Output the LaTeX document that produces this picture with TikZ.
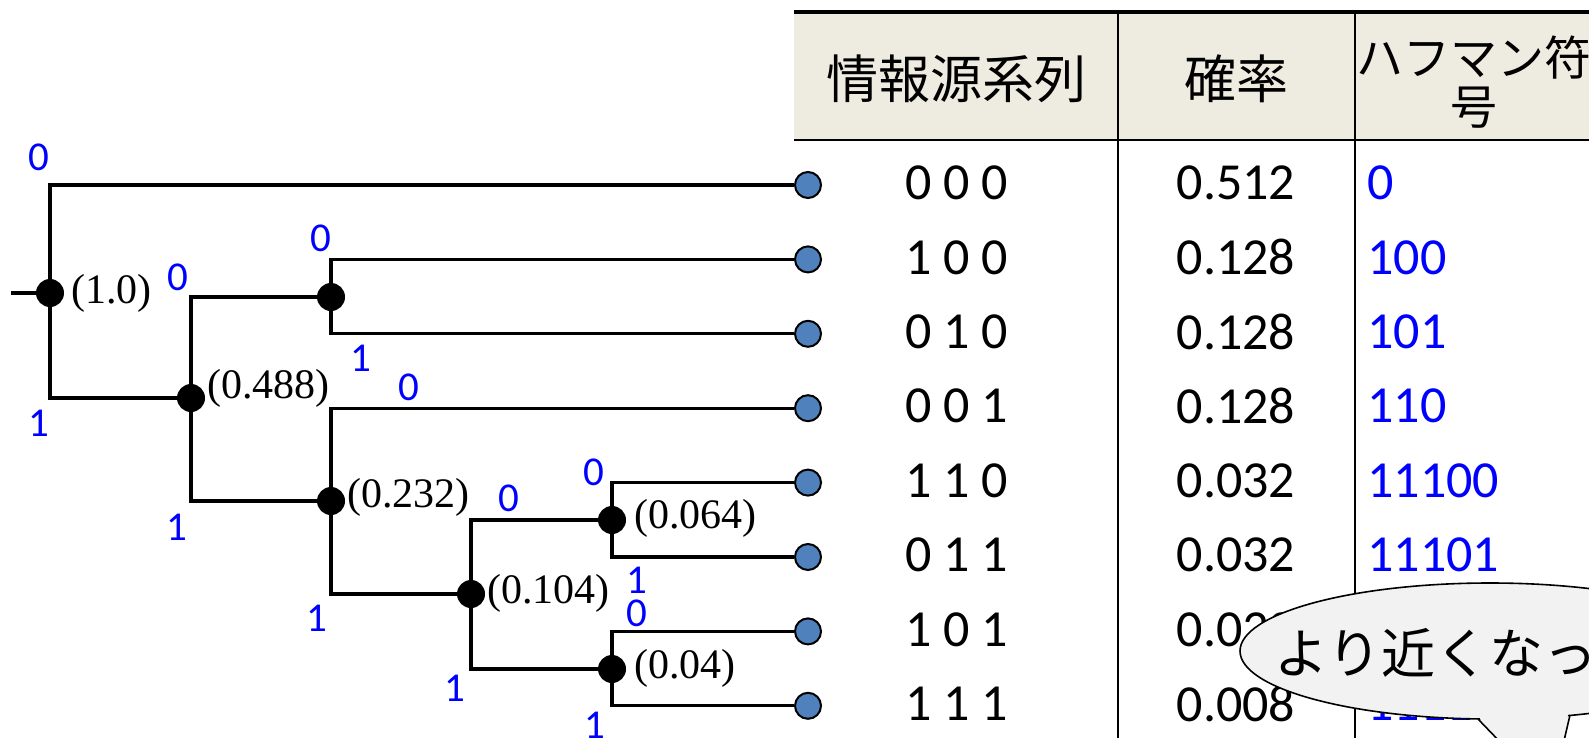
\documentclass[tikz,border=0pt]{standalone}
\usepackage{fontspec}
\setmainfont{Liberation Serif}
\newfontfamily\carl{Carlito}
\newfontfamily\jpf{Noto Sans CJK JP}
\definecolor{hdr}{HTML}{EEECE1}
\definecolor{leafblue}{HTML}{4F81BD}
\definecolor{callfill}{HTML}{F2F2F2}
\definecolor{codeblue}{RGB}{0,0,255}
\begin{document}
\begin{tikzpicture}[x=0.5pt,y=-0.5pt,
  tree/.style={line width=1.6pt},
  dot/.style={circle,fill=black,inner sep=0pt,minimum size=14pt},
  leaf/.style={circle,draw=black,line width=1pt,fill=leafblue,inner sep=0pt,minimum size=13pt},
  prob/.style={anchor=west,inner sep=0pt,font=\fontsize{21}{21}\selectfont},
  bit/.style={text=codeblue,inner sep=0pt,font=\carl\fontsize{20.5}{20.5}\selectfont},
  cell/.style={inner sep=0pt,font=\carl\fontsize{26}{26}\selectfont},
  code/.style={cell,anchor=west,text=codeblue},
  head/.style={inner sep=0pt,font=\jpf\fontsize{26}{26}\selectfont},
  headsm/.style={inner sep=0pt,font=\jpf\fontsize{23.5}{23.5}\selectfont},
]
\clip (0,0) rectangle (1589,738);
% table header
\fill[hdr] (794,12) rectangle (1589,140);
\draw[line width=2pt] (794,12) -- (1589,12);
\draw[line width=1.3pt] (794,140) -- (1589,140);
\draw[line width=1pt] (1118,12) -- (1118,738);
\draw[line width=1pt] (1355,12) -- (1355,738);
\node[head] (h1) at (956,79) {情報源系列};
\node[head] (h2) at (1236,79) {確率};
\node[headsm,anchor=west] (h3a) at (1356,58) {ハフマン符};
\node[headsm] (h3b) at (1474,108) {号};
% rows
\foreach \i/\yy/\s/\p/\c in {0/185/0 0 0/0.512/0, 1/259.4/1 0 0/0.128/100, 2/333.8/0 1 0/0.128/101, 3/408.2/0 0 1/0.128/110, 4/482.6/1 1 0/0.032/11100, 5/557/0 1 1/0.032/11101, 6/631.4/1 0 1/0.032/11110, 7/705.8/1 1 1/0.008/11111}{
  \node[leaf] (l\i) at (808,\yy) {};
  \node[cell] (s\i) at (957,\yy-2) {\s};
  \node[cell] (p\i) at (1236,\yy-2) {\p};
  \node[code] (c\i) at (1367,\yy-2) {\c};
}
% tree nodes
\coordinate (in) at (11,293);
\node[dot] (r) at (50,293) {};
\node[dot] (a) at (191,398) {};
\node[dot] (b) at (331,297) {};
\node[dot] (c) at (331,501) {};
\node[dot] (d) at (471,594) {};
\node[dot] (e) at (612,520) {};
\node[dot] (f) at (612,669) {};
% edges
\draw[tree] (in) -- (r.center);
\draw[tree] (r.center) |- (l0.west);
\draw[tree] (r.center) |- (a.center);
\draw[tree] (a.center) |- (b.center);
\draw[tree] (a.center) |- (c.center);
\draw[tree] (b.center) |- (l1.west);
\draw[tree] (b.center) |- (l2.west);
\draw[tree] (c.center) |- (l3.west);
\draw[tree] (c.center) |- (d.center);
\draw[tree] (d.center) |- (e.center);
\draw[tree] (d.center) |- (f.center);
\draw[tree] (e.center) |- (l4.west);
\draw[tree] (e.center) |- (l5.west);
\draw[tree] (f.center) |- (l6.west);
\draw[tree] (f.center) |- (l7.west);
% probability labels
\node[prob] (tr) at (71,293) {(1.0)};
\node[prob] (ta) at (207,388) {(0.488)};
\node[prob] (tc) at (347,497) {(0.232)};
\node[prob] (td) at (487,593) {(0.104)};
\node[prob] (te) at (634,518) {(0.064)};
\node[prob] (tf) at (634,668) {(0.04)};
% bit labels
\node[bit] (b1) at (39,157) {0};
\node[bit] (b2) at (39,423) {1};
\node[bit] (b3) at (178,277) {0};
\node[bit] (b4) at (177,527) {1};
\node[bit] (b5) at (321,238) {0};
\node[bit] (b6) at (361,358) {1};
\node[bit] (b7) at (409,387) {0};
\node[bit] (b8) at (317,618) {1};
\node[bit] (b9) at (509,498) {0};
\node[bit] (b10) at (455,688) {1};
\node[bit] (b11) at (594,472) {0};
\node[bit] (b12) at (637,580) {1};
\node[bit] (b13) at (637,613) {0};
\node[bit] (b14) at (595,725) {1};
% callout
\fill[callfill] (1476,712) -- (1503,745) -- (1563,745) -- (1572,708) -- cycle;
\filldraw[fill=callfill,draw=black,line width=0.8pt] (1490,651) ellipse [x radius=125pt, y radius=34pt];
\fill[callfill] (1480,700) -- (1480,719) -- (1504,744) -- (1562,744) -- (1568,715) -- (1568,700) -- cycle;
\draw[line width=0.8pt] (1478,719) -- (1503,745);
\draw[line width=0.8pt] (1570,715) -- (1563,745);
\node[head,anchor=west,font=\jpf\fontsize{27}{27}\selectfont] (ct) at (1274,653) {より近くなった};
\end{tikzpicture}
\end{document}
